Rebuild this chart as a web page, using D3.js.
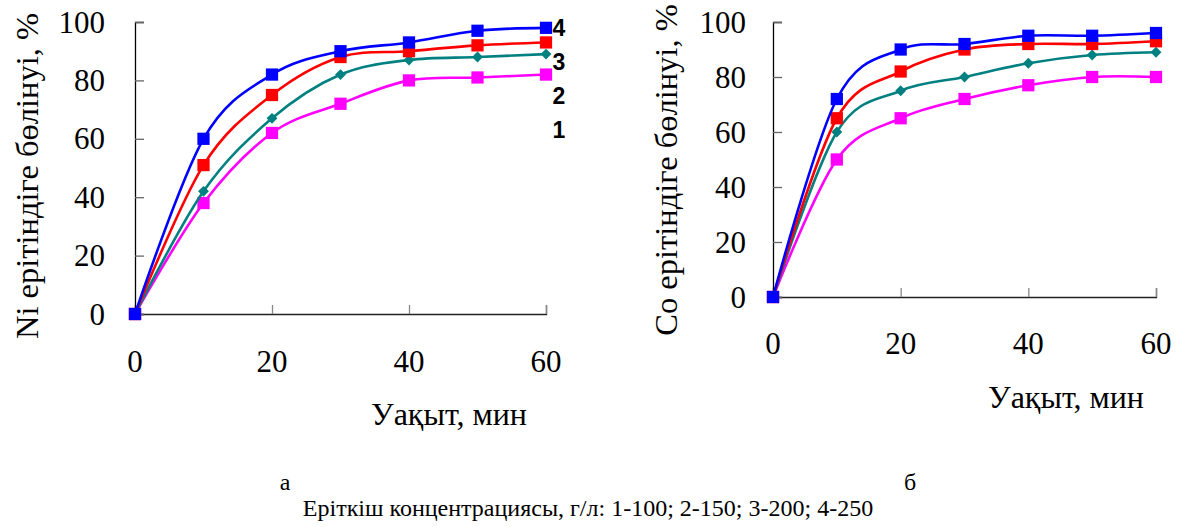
<!DOCTYPE html>
<html>
<head>
<meta charset="utf-8">
<script src="https://cdn.jsdelivr.net/npm/d3@7"></script>
<style>
  body { margin: 0; background: #fff; }
</style>
</head>
<body>
<svg id="chart" width="1181" height="527"></svg>
<script>
// time, min
const times = [0, 10, 20, 30, 40, 50, 60]
const xTicks = [0, 20, 40, 60]
const yTicks = [0, 20, 40, 60, 80, 100]

// Ni leaching, %  (series 1..4)
const ni1 = [0, 38, 62, 72, 80, 81, 82]
const ni2 = [0, 42, 67, 82, 87, 88, 89]
const ni3 = [0, 51, 75, 88, 90, 92, 93]
const ni4 = [0, 60, 82, 90, 93, 97, 98]

// Co leaching, %  (series 1..4)
const co1 = [0, 50, 65, 72, 77, 80, 80]
const co2 = [0, 60, 75, 80, 85, 88, 89]
const co3 = [0, 65, 82, 90, 92, 92, 93]
const co4 = [0, 72, 90, 92, 95, 95, 96]

const seriesNames = ["1", "2", "3", "4"]
const seriesColors = ["#ff00ff", "#008080", "#ff0000", "#0000ff"]
const seriesShapes = ["square", "diamond", "square", "square"]

const serif = "'Liberation Serif', 'Times New Roman', Times, 'DejaVu Serif', serif"

const svg = d3.select("#chart")
    .style("font-family", serif)

function drawPanel(cfg) {
    const g = svg.append("g")
    const xScale = d3.scaleLinear().domain([0, 60]).range([cfg.left, cfg.right])
    const yScale = d3.scaleLinear().domain([0, 100]).range([cfg.bottom, cfg.top])

    // axes
    const xAxis = g.append("g")
        .attr("transform", `translate(0,${cfg.bottom})`)
        .call(d3.axisTop(xScale).tickValues(xTicks).tickSize(9).tickFormat(""))
    xAxis.select(".domain").attr("stroke", "#222").attr("stroke-width", 1.3)
    xAxis.selectAll(".tick line").attr("stroke", "#888").attr("stroke-width", 1.3)

    const yAxis = g.append("g")
        .attr("transform", `translate(${cfg.left},0)`)
        .call(d3.axisRight(yScale).tickValues(yTicks).tickSize(9).tickFormat(""))
    yAxis.select(".domain").attr("stroke", "#000").attr("stroke-width", 1.3)
    yAxis.selectAll(".tick line").attr("stroke", "#666").attr("stroke-width", 1.3)

    // tick labels
    g.selectAll(".ylab").data(yTicks).join("text")
        .attr("x", cfg.left - cfg.yLabGap)
        .attr("y", d => yScale(d))
        .attr("dy", "0.34em")
        .attr("text-anchor", "end")
        .style("font-family", serif)
        .attr("font-size", 31)
        .text(d => d)

    g.selectAll(".xlab").data(xTicks).join("text")
        .attr("x", d => xScale(d))
        .attr("y", cfg.xLabY)
        .attr("dy", "0.34em")
        .attr("text-anchor", "middle")
        .style("font-family", serif)
        .attr("font-size", 31)
        .text(d => d)

    // axis titles
    g.append("text")
        .attr("transform", `translate(${cfg.yTitleX},${cfg.yTitleY}) rotate(-90)`)
        .attr("text-anchor", "middle")
        .attr("dy", "0.35em")
        .style("font-family", serif)
        .attr("font-size", 32.5)
        .text(cfg.yTitle)

    g.append("text")
        .attr("x", cfg.xTitleX)
        .attr("y", cfg.xTitleY)
        .attr("dy", "0.35em")
        .attr("text-anchor", "middle")
        .style("font-family", serif)
        .attr("font-size", 32)
        .text("Уақыт, мин")

    const line = d3.line()
        .x((d, i) => xScale(times[i]))
        .y(d => yScale(d))
        .curve(d3.curveCatmullRom.alpha(0))

    cfg.series.forEach((vals, s) => {
        g.append("path")
            .attr("d", line(vals))
            .attr("fill", "none")
            .attr("stroke", seriesColors[s])
            .attr("stroke-width", 2.6)

        const sym = seriesShapes[s] === "square"
            ? d3.symbol(d3.symbolSquare, 150)
            : d3.symbol(d3.symbolDiamond2, 75)
        g.selectAll(null).data(vals).join("path")
            .attr("transform", (d, i) => `translate(${xScale(times[i])},${yScale(d)})`)
            .attr("d", sym)
            .attr("fill", seriesColors[s])
    })

    return { xScale, yScale }
}

const left = drawPanel({
    left: 135, right: 546, top: 22, bottom: 314,
    yLabGap: 30, xLabY: 361,
    yTitle: "Ni ерітіндіге бөлінуі, %", yTitleX: 27, yTitleY: 176,
    xTitleX: 449, xTitleY: 414,
    series: [ni1, ni2, ni3, ni4]
})

drawPanel({
    left: 773, right: 1156, top: 22, bottom: 297,
    yLabGap: 27, xLabY: 343,
    yTitle: "Co ерітіндіге бөлінуі, %", yTitleX: 666, yTitleY: 170,
    xTitleX: 1066, xTitleY: 397,
    series: [co1, co2, co3, co4]
})

// curve numbers next to the left panel, stacked down from series 4
seriesNames.slice().reverse().forEach((name, k) => {
    svg.append("text")
        .attr("x", left.xScale(60) + 13)
        .attr("y", left.yScale(ni4[6]) + k * 34)
        .attr("dy", "0.36em")
        .attr("text-anchor", "middle")
        .style("font-family", "'Liberation Sans', Arial, sans-serif")
        .attr("font-weight", "bold")
        .attr("font-size", 23)
        .text(name)
})

svg.append("text").attr("x", 285).attr("y", 482).attr("dy", "0.35em")
    .attr("text-anchor", "middle").attr("font-size", 24).text("а")
svg.append("text").attr("x", 910).attr("y", 482).attr("dy", "0.35em")
    .attr("text-anchor", "middle").attr("font-size", 24).text("б")
svg.append("text").attr("x", 588).attr("y", 508).attr("dy", "0.35em")
    .attr("text-anchor", "middle").attr("font-size", 24)
    .text("Еріткіш концентрациясы, г/л: 1-100; 2-150; 3-200; 4-250")
</script>
</body>
</html>
